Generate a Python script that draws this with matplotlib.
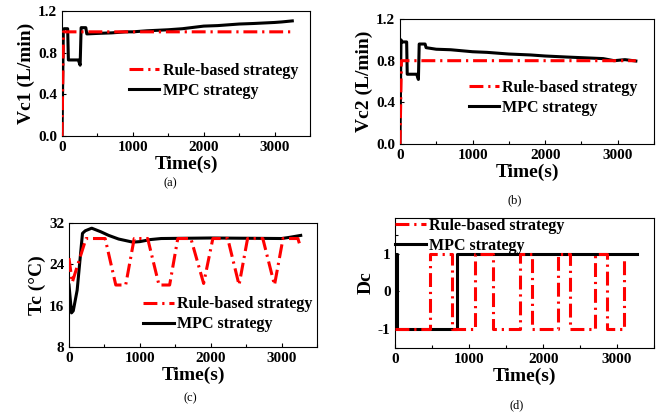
import matplotlib
matplotlib.use("Agg")
import matplotlib.pyplot as plt
from matplotlib.ticker import FormatStrFormatter, MultipleLocator

plt.rcParams["font.family"] = "Liberation Serif"
plt.rcParams["font.weight"] = "bold"
plt.rcParams["lines.scale_dashes"] = False

# --- Vc1 ---
vc1_rule_t = [0, 20, 3250]
vc1_rule = [0.0, 1.0, 1.0]
vc1_mpc_t = [0, 19, 30, 80, 90, 230, 256, 270, 336, 350, 500, 700, 900, 1000, 1200,
             1500, 1700, 2000, 2200, 2500, 2700, 3000, 3100, 3250]
vc1_mpc = [0.0, 1.02, 1.03, 1.03, 0.73, 0.73, 0.68, 1.04, 1.04, 0.98, 0.985, 0.99, 1.0,
           1.0, 1.01, 1.02, 1.03, 1.055, 1.06, 1.075, 1.08, 1.09, 1.095, 1.105]

# --- Vc2 ---
vc2_rule_t = [0, 20, 3250]
vc2_rule = [0.0, 0.8, 0.8]
vc2_mpc_t = [0, 14, 30, 92, 100, 230, 254, 265, 346, 360, 500, 700, 1000, 1200, 1500,
             1800, 2000, 2300, 2500, 2800, 2950, 3100, 3250]
vc2_mpc = [0.0, 1.0, 0.98, 0.98, 0.67, 0.67, 0.62, 0.96, 0.96, 0.925, 0.91, 0.905, 0.886,
           0.88, 0.864, 0.855, 0.845, 0.835, 0.829, 0.82, 0.8, 0.81, 0.797]

# --- Tc ---
tc_rule_t = [0, 45, 240, 510, 660, 800, 920, 1110, 1270, 1420, 1535, 1720, 1900, 2030,
             2240, 2400, 2520, 2735, 2900, 3020, 3230, 3270]
tc_rule = [25.2, 20.5, 29, 29, 20, 20, 29, 29, 20, 20, 29, 29, 20.3, 29, 29, 20, 29, 29,
           20, 29, 29, 27.2]
tc_mpc_t = [0, 35, 60, 115, 190, 230, 320, 450, 560, 700, 900, 1000, 1150, 1300, 2000,
            3000, 3100, 3270]
tc_mpc = [20, 14.6, 15.0, 19, 30, 30.5, 31, 30.3, 29.6, 28.9, 28.3, 28.4, 28.8, 29,
          29.1, 29.0, 29.2, 29.6]

# --- Dc ---
dc_rule_t = [0, 465, 465, 760, 760, 1076, 1076, 1325, 1325, 1687, 1687, 1845, 1845,
             2198, 2198, 2365, 2365, 2704, 2704, 2863, 2863, 3089, 3089]
dc_rule = [-1, -1, 1, 1, -1, -1, 1, 1, -1, -1, 1, 1, -1, -1, 1, 1, -1, -1, 1, 1, -1, -1, 0.9]
dc_mpc_t = [0, 20, 20, 827, 827, 3270]
dc_mpc = [1, 1, -1, -1, 1, 1]

RED = "#ff0000"
DASH = (0, (10, 3.5, 1.6, 3.5))

fig = plt.figure(figsize=(6.61, 4.20), dpi=100)

panels = [
    dict(rect=[0.0938, 0.6762, 0.3752, 0.2976], rule=(vc1_rule_t, vc1_rule),
         mpc=(vc1_mpc_t, vc1_mpc), ylim=(0, 1.2), yticks=[0, 0.4, 0.8, 1.2], yminor=None,
         ylabel="Vc1 (L/min)", fmt="%.1f", leg=(0.27, 0.44), cap=(170, 183), cap_t="(a)"),
    dict(rect=[0.6051, 0.6571, 0.3843, 0.2976], rule=(vc2_rule_t, vc2_rule),
         mpc=(vc2_mpc_t, vc2_mpc), ylim=(0, 1.2), yticks=[0, 0.4, 0.8, 1.2], yminor=None,
         ylabel="Vc2 (L/min)", fmt="%.1f", leg=(0.27, 0.37), cap=(515, 200), cap_t="(b)"),
    dict(rect=[0.1044, 0.1738, 0.3752, 0.2952], rule=(tc_rule_t, tc_rule),
         mpc=(tc_mpc_t, tc_mpc), ylim=(8, 32), yticks=[8, 16, 24, 32], yminor=None,
         ylabel="Tc (°C)", fmt="%d", leg=(0.30, 0.265), cap=(190, 398), cap_t="(c)"),
    dict(rect=[0.5983, 0.1714, 0.3911, 0.3095], rule=(dc_rule_t, dc_rule),
         mpc=(dc_mpc_t, dc_mpc), ylim=(-1.5, 1.95), yticks=[-1, 0, 1], yminor=0.5,
         ylabel="Dc", fmt="%d", leg=(0.0, 0.865), cap=(517, 405), cap_t="(d)"),
]

for p in panels:
    ax = fig.add_axes(p["rect"])
    ax.plot(*p["rule"], color=RED, lw=2.2, linestyle=DASH, label="Rule-based strategy",
            zorder=3)
    ax.plot(*p["mpc"], color="black", lw=2.2, label="MPC strategy", zorder=2)
    ax.set_xlim(0, 3500)
    ax.set_ylim(*p["ylim"])
    ax.set_xticks([0, 1000, 2000, 3000])
    ax.xaxis.set_minor_locator(MultipleLocator(500))
    ax.set_yticks(p["yticks"])
    if p["yminor"]:
        ax.yaxis.set_minor_locator(MultipleLocator(p["yminor"]))
    ax.yaxis.set_major_formatter(FormatStrFormatter(p["fmt"]))
    ax.tick_params(which="both", direction="in", labelsize=11, length=3, width=0.8)
    ax.tick_params(which="minor", length=2)
    for s in ax.spines.values():
        s.set_linewidth(0.8)
    ax.set_xlabel("Time(s)", fontsize=14, fontweight="bold", labelpad=1)
    ax.set_ylabel(p["ylabel"], fontsize=14, fontweight="bold", labelpad=2)
    ax.legend(loc="center left", bbox_to_anchor=p["leg"], frameon=False,
              handlelength=1.9, handletextpad=0.2, borderpad=0, borderaxespad=0,
              labelspacing=0.25, prop={"weight": "bold", "size": 11.5})
    fig.text(p["cap"][0] / 661, 1 - p["cap"][1] / 420, p["cap_t"], ha="center",
             va="center", fontsize=9, fontweight="normal")

fig.savefig("out.png", dpi=100)
